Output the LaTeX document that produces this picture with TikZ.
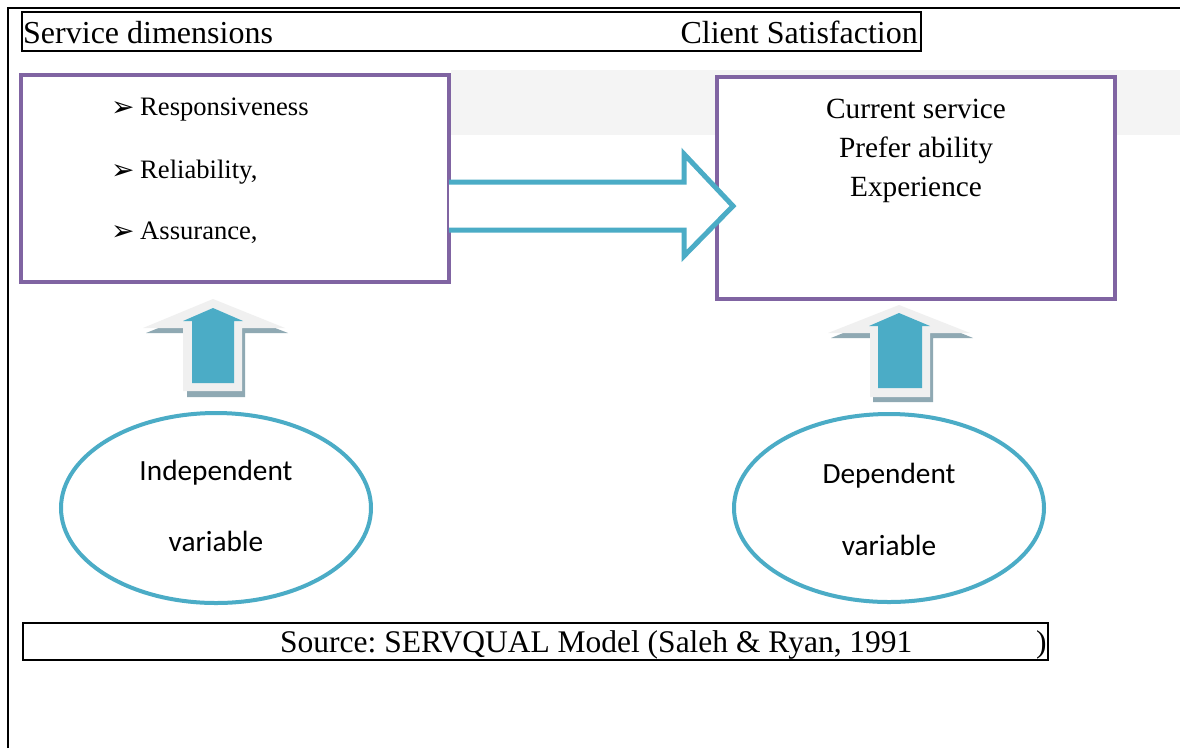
\documentclass[tikz,border=0pt]{standalone}
\usepackage{fontspec}
\setmainfont{Liberation Serif}
\newfontfamily\calibfont{Carlito}
\newfontfamily\dejavufont{DejaVu Sans}
\frenchspacing
\definecolor{boxpurple}{HTML}{8064A2}
\definecolor{arrowblue}{HTML}{4BACC6}
\definecolor{bandgrey}{HTML}{F4F4F4}
\definecolor{litegrey}{HTML}{F0F0F0}
\definecolor{shadowgrey}{HTML}{8FA9B3}
\tikzset{
  framebox/.style={draw=black, line width=1.5pt},
  purplebox/.style={draw=boxpurple, line width=4.5pt, fill=white},
  varellipse/.style={draw=arrowblue, line width=4pt, fill=white},
  txt/.style={inner sep=0pt, anchor=base west},
  ctxt/.style={inner sep=0pt, anchor=base},
  bullettxt/.style={inner sep=0pt, anchor=base west, font=\fontsize{26.6}{30}\selectfont},
  bulletmark/.style={inner sep=0pt, anchor=base west, font=\dejavufont\fontsize{28}{30}\selectfont},
  boxtxt/.style={inner sep=0pt, anchor=base, font=\fontsize{29.3}{34}\selectfont},
  ellipsetxt/.style={inner sep=0pt, anchor=base, font=\calibfont\fontsize{29.3}{34}\selectfont},
}
\begin{document}
\begin{tikzpicture}[x=1pt,y=-1pt]
\useasboundingbox (0,0) rectangle (1180,748);
\fill[white] (0,0) rectangle (1180,748);
% outer frame
\draw[line width=2pt] (8,748) -- (8,8) -- (1180,8);
% title box
\draw[framebox] (22,12) rectangle (921,51);
\node[txt, font=\fontsize{32}{36}\selectfont] (sd) at (23,43) {Service dimensions};
\node[inner sep=0pt, anchor=base east, font=\fontsize{32}{36}\selectfont] (cs) at (918,43) {Client Satisfaction};
% grey band
\fill[bandgrey] (451,70) rectangle (1180,135);
% left box
\draw[purplebox] (21,75) rectangle (449,282);
\node[bulletmark] (b1) at (111,116) {➢};
\node[bullettxt] (r1) at (140,115) {Responsiveness};
\node[bulletmark] (b2) at (111,179) {➢};
\node[bullettxt] (r2) at (140,178) {Reliability,};
\node[bulletmark] (b3) at (111,240) {➢};
\node[bullettxt] (r3) at (140,239) {Assurance,};
% right box
\draw[purplebox] (717,77) rectangle (1115,299);
\node[boxtxt] (c1) at (916,118) {Current service};
\node[boxtxt] (c2) at (916,157) {Prefer ability};
\node[boxtxt] (c3) at (916,196) {Experience};
% big outline arrow
\draw[draw=arrowblue, line width=5pt, fill=white, line join=miter]
  (449,182) -- (684,182) -- (684,154) -- (733,206) -- (684,256) -- (684,230) -- (449,230);
% left up arrow
\fill[shadowgrey] (146,333) -- (216,305) -- (288,333) -- (245,333) -- (245,397) -- (187,397) -- (187,333) -- cycle;
\fill[litegrey] (143,328) -- (213,299) -- (285,328) -- (242,328) -- (242,391) -- (183,391) -- (183,328) -- cycle;
\fill[arrowblue] (183,321) -- (213,308) -- (243,321) -- (234,321) -- (234,383) -- (192,383) -- (192,321) -- cycle;
% right up arrow
\fill[shadowgrey] (831,338) -- (902,309) -- (973,338) -- (933,338) -- (933,402) -- (873,402) -- (873,338) -- cycle;
\fill[litegrey] (828,333) -- (899,305) -- (970,333) -- (930,333) -- (930,397) -- (870,397) -- (870,333) -- cycle;
\fill[arrowblue] (869,326) -- (899,313) -- (930,326) -- (922,326) -- (922,388) -- (878,388) -- (878,326) -- cycle;
% ellipses
\draw[varellipse] (216,508) ellipse [x radius=155, y radius=95];
\node[ellipsetxt] (iv1) at (216,480) {Independent};
\node[ellipsetxt] (iv2) at (216,551) {variable};
\draw[varellipse] (889,508) ellipse [x radius=155, y radius=94];
\node[ellipsetxt] (dv1) at (889,483) {Dependent};
\node[ellipsetxt] (dv2) at (889,555) {variable};
% source box
\draw[framebox] (23,623) rectangle (1048,660);
\node[txt, font=\fontsize{31.5}{36}\selectfont] (src) at (280,652) {Source: SERVQUAL Model (Saleh \& Ryan, 1991};
\node[txt, font=\fontsize{31.5}{36}\selectfont] (srcp) at (1036,652) {)};
\end{tikzpicture}
\end{document}
